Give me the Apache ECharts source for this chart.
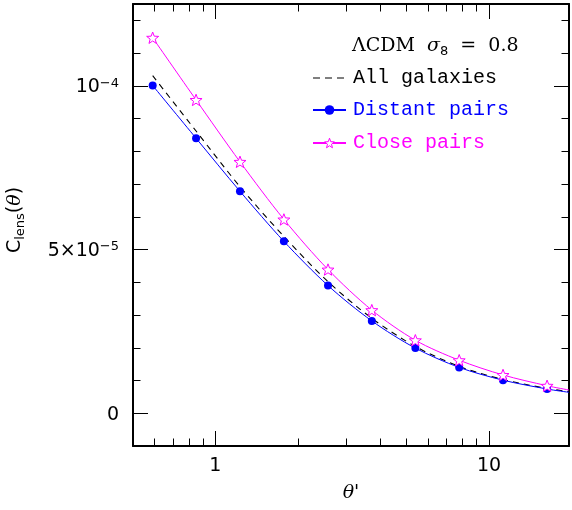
<!DOCTYPE html>
<html><head><meta charset="utf-8">
<script src="https://cdn.jsdelivr.net/npm/echarts@6/dist/echarts.min.js"></script>
<style>html,body{margin:0;padding:0;background:#fff}#c{width:572px;height:510px}</style>
</head><body><div id="c"></div>
<script>
// ---- data ----
const theta = [0.59, 0.85, 1.23, 1.78, 2.58, 3.73, 5.38, 7.78, 11.25, 16.3, 19.6];
const allGalaxies  = [1.031e-4, 8.62e-5, 6.92e-5, 5.40e-5, 4.02e-5, 2.90e-5, 2.04e-5, 1.43e-5, 1.03e-5, 7.6e-6, 6.6e-6];
const distantPairs = [1.001e-4, 8.40e-5, 6.78e-5, 5.25e-5, 3.90e-5, 2.82e-5, 1.99e-5, 1.40e-5, 1.01e-5, 7.4e-6, 6.4e-6];
const closePairs   = [1.147e-4, 9.57e-5, 7.68e-5, 5.92e-5, 4.39e-5, 3.15e-5, 2.23e-5, 1.62e-5, 1.17e-5, 8.4e-6, 7.1e-6];
const markedCount = 10; // points carrying symbols; the last entry is where curves leave the frame
const xMajorTicks = [1, 10];
const xTickLabels = ['1', '10'];
const xMinorTicks = [0.6, 0.7, 0.8, 0.9, 2, 3, 4, 5, 6, 7, 8, 9];
const yMajorTicks = [0, 5e-5, 1e-4];
const yTickMantissa = ['0', '5×10', '10'];
const yTickExponent = ['', '−5', '−4'];
const yMinorTicks = [1e-5, 2e-5, 3e-5, 4e-5, 6e-5, 7e-5, 8e-5, 9e-5, 1.1e-4, 1.2e-4];
const seriesNames = ['All galaxies', 'Distant pairs', 'Close pairs'];
const seriesColors = ['#000000', '#0000ff', '#ff00ff'];

const X_MIN = 0.5, X_MAX = 19.6, Y_MIN = -1e-5, Y_MAX = 1.25e-4;
const SANS = '"DejaVu Sans", sans-serif', SERIF = '"DejaVu Serif", "Liberation Serif", serif';
const MONO = '"Liberation Mono", monospace';
const STAR = 'path://M0,-10 L2.47,-3.4 L9.51,-3.09 L3.99,1.3 L5.88,8.09 L0,4.2 L-5.88,8.09 L-3.99,1.3 L-9.51,-3.09 L-2.47,-3.4 Z';
const DASH_ICON = 'path://M0,-6h0.01v0.01h-0.01z M0,6h0.01v0.01h-0.01z M0,-0.55h7v1.1h-7z M12,-0.55h7v1.1h-7z M24,-0.55h7v1.1h-7z';
const LEGEND_LEFT = 312, LEGEND_TEXT_LEFT = 353;
const legendRowY = [78, 110, 143];

function near(a, b) { return Math.abs(a - b) <= Math.abs(b) * 1e-6 + 1e-15; }

function xAxisDef(pos, major, showLine) {
  return {
    type: 'log', logBase: 10, min: X_MIN, max: X_MAX, position: pos,
    splitLine: { show: false }, minorTick: { show: false },
    axisLine: { show: showLine, onZero: false, lineStyle: { color: '#000', width: 2 } },
    axisTick: { show: true, inside: true, customValues: major ? xMajorTicks : xMinorTicks,
                length: major ? 15 : 7.5, lineStyle: { color: '#000', width: 1 } },
    axisLabel: (pos === 'bottom' && major) ? {
      show: true, customValues: xMajorTicks, margin: 11,
      fontFamily: SANS, fontSize: 19, color: '#000',
      formatter: function (v) {
        for (let i = 0; i < xMajorTicks.length; i++) if (near(v, xMajorTicks[i])) return xTickLabels[i];
        return '';
      }
    } : { show: false }
  };
}
function yAxisDef(pos, major, showLine) {
  return {
    type: 'value', min: Y_MIN, max: Y_MAX, position: pos,
    splitLine: { show: false }, minorTick: { show: false },
    axisLine: { show: showLine, onZero: false, lineStyle: { color: '#000', width: 2 } },
    axisTick: { show: true, inside: true, customValues: major ? yMajorTicks : yMinorTicks,
                length: major ? 15 : 7.5, lineStyle: { color: '#000', width: 1 } },
    axisLabel: (pos === 'left' && major) ? {
      show: true, customValues: yMajorTicks, margin: 14,
      color: '#000',
      formatter: function (v) {
        for (let i = 0; i < yMajorTicks.length; i++) {
          if (near(v, yMajorTicks[i])) {
            return '{b|' + yTickMantissa[i] + '}' + (yTickExponent[i] ? '{s|' + yTickExponent[i] + '}' : '');
          }
        }
        return '';
      },
      rich: {
        b: { fontFamily: SANS, fontSize: 19, lineHeight: 22, verticalAlign: 'bottom', color: '#000' },
        s: { fontFamily: SANS, fontSize: 13, lineHeight: 13, verticalAlign: 'bottom', padding: [0, 0, 7, 0], color: '#000' }
      }
    } : { show: false }
  };
}

function buildData(vals) {
  return theta.map(function (x, i) {
    return i < markedCount ? [x, vals[i]] : { value: [x, vals[i]], symbol: 'none' };
  });
}

const chart = echarts.init(document.getElementById('c'), null, { renderer: 'canvas' });
const legendBase = {
  orient: 'vertical', left: LEGEND_LEFT, padding: 0, itemWidth: 33, itemHeight: 12, selectedMode: false,
  formatter: function () { return ''; }
};
const legendItems = [
  { name: seriesNames[0], icon: DASH_ICON, itemStyle: { color: '#000' } },
  { name: seriesNames[1] },
  { name: seriesNames[2], itemStyle: { color: '#ffffff', borderColor: '#ff00ff', borderWidth: 1 } }
];
const legendLabels = seriesNames.map(function (name, i) {
  return { type: 'text', x: LEGEND_TEXT_LEFT, y: legendRowY[i],
    style: { text: name, font: '20px ' + MONO, fill: seriesColors[i], align: 'left', verticalAlign: 'middle' } };
});

chart.setOption({
  animation: false,
  backgroundColor: '#fff',
  grid: { left: 133, right: 3, top: 4, bottom: 64, containLabel: false, outerBoundsMode: 'none' },
  xAxis: [xAxisDef('bottom', true, true), xAxisDef('bottom', false, false),
          xAxisDef('top', true, true), xAxisDef('top', false, false)],
  yAxis: [yAxisDef('left', true, true), yAxisDef('left', false, false),
          yAxisDef('right', true, true), yAxisDef('right', false, false)],
  legend: legendItems.map(function (item, i) {
    return Object.assign({}, legendBase, { top: legendRowY[i] - 6, data: [item] });
  }),
  series: [
    { name: seriesNames[0], type: 'line', xAxisIndex: 0, yAxisIndex: 0, data: buildData(allGalaxies),
      smooth: 0.3, symbol: 'none', showSymbol: false,
      lineStyle: { color: '#000', width: 1.1, type: [6, 5] }, itemStyle: { color: '#000' }, z: 2 },
    { name: seriesNames[1], type: 'line', xAxisIndex: 0, yAxisIndex: 0, data: buildData(distantPairs),
      smooth: 0.3, symbol: 'circle', symbolSize: 8,
      lineStyle: { color: '#0000ff', width: 1 }, itemStyle: { color: '#0000ff' }, z: 3 },
    { name: seriesNames[2], type: 'line', xAxisIndex: 0, yAxisIndex: 0, data: buildData(closePairs),
      smooth: 0.3, symbol: STAR, symbolSize: 12, symbolKeepAspect: true,
      lineStyle: { color: '#ff00ff', width: 1 },
      itemStyle: { color: '#ffffff', borderColor: '#ff00ff', borderWidth: 1 }, z: 4 }
  ],
  graphic: legendLabels.concat([
    { type: 'text', x: 352, y: 47,
      style: { text: '{r|ΛCDM  }{i|σ}{sb|8}{r|  =  0.8}', align: 'left', verticalAlign: 'middle',
        rich: {
          r: { fontFamily: SERIF, fontSize: 19, lineHeight: 22, padding: [0, 0, 2, 0], verticalAlign: 'bottom', fill: '#000' },
          i: { fontFamily: SERIF, fontStyle: 'italic', fontSize: 19, lineHeight: 22, padding: [0, 0, 2, 0], verticalAlign: 'bottom', fill: '#000' },
          sb: { fontFamily: SANS, fontSize: 13, lineHeight: 13, verticalAlign: 'bottom', fill: '#000' }
        } } },
    { type: 'text', x: 351, y: 493,
      style: { text: '{i|θ}{r|\'}', align: 'center', verticalAlign: 'middle',
        rich: {
          i: { fontFamily: SERIF, fontStyle: 'italic', fontSize: 19, fill: '#000' },
          r: { fontFamily: SERIF, fontSize: 19, fill: '#000' }
        } } },
    { type: 'text', x: 17, y: 220, rotation: Math.PI / 2,
      style: { text: '{r|C}{s|lens}{r|(}{i|θ}{r|)}', align: 'center', verticalAlign: 'middle',
        rich: {
          r: { fontFamily: SANS, fontSize: 19, lineHeight: 20, padding: [0, 0, 2, 0], verticalAlign: 'bottom', fill: '#000' },
          i: { fontFamily: SERIF, fontStyle: 'italic', fontSize: 19, lineHeight: 20, padding: [0, 0, 2, 0], verticalAlign: 'bottom', fill: '#000' },
          s: { fontFamily: SANS, fontSize: 13, lineHeight: 13, verticalAlign: 'bottom', fill: '#000' }
        } } }
  ])
});
</script>
</body></html>
